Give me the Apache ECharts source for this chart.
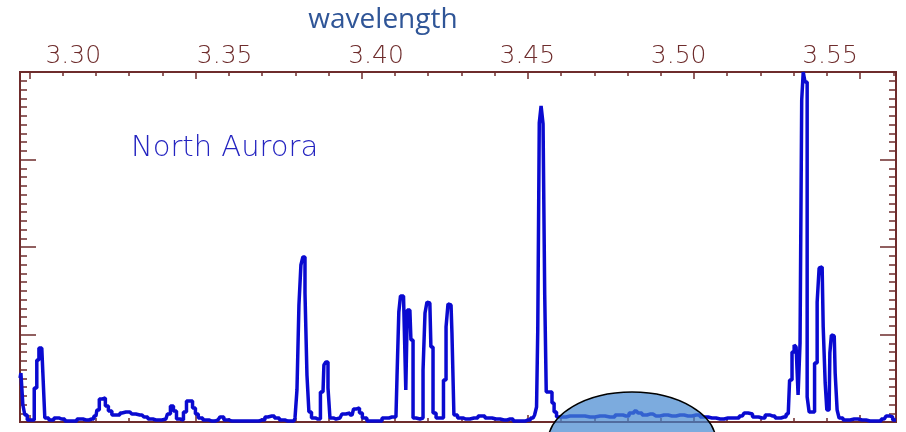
<!DOCTYPE html>
<html>
<head>
<meta charset="utf-8">
<title>North Aurora</title>
<script src="https://cdn.jsdelivr.net/npm/echarts@6/dist/echarts.min.js"></script>
<style>
  html, body { margin: 0; padding: 0; background: #fff; }
  #chart { width: 906px; height: 432px; }
</style>
</head>
<body>
<div id="chart"></div>
<script>
// wavelength (um) and intensity, one pair per step
const wavelength = [
  3.2824, 3.2830, 3.2837, 3.2843, 3.2853, 3.2866, 3.2876, 3.2883, 3.2890, 3.2896,
  3.2903, 3.2909, 3.2929, 3.2943, 3.2962, 3.2982, 3.3002, 3.3022, 3.3042, 3.3061,
  3.3075, 3.3081, 3.3091, 3.3101, 3.3111, 3.3121, 3.3134, 3.3147, 3.3161, 3.3174,
  3.3187, 3.3200, 3.3213, 3.3227, 3.3240, 3.3253, 3.3273, 3.3293, 3.3306, 3.3316,
  3.3326, 3.3336, 3.3346, 3.3359, 3.3369, 3.3379, 3.3389, 3.3399, 3.3408, 3.3418,
  3.3438, 3.3458, 3.3478, 3.3491, 3.3504, 3.3524, 3.3551, 3.3577, 3.3603, 3.3623,
  3.3643, 3.3656, 3.3673, 3.3689, 3.3709, 3.3729, 3.3736, 3.3742, 3.3749, 3.3755,
  3.3762, 3.3769, 3.3775, 3.3782, 3.3792, 3.3808, 3.3825, 3.3831, 3.3838, 3.3845,
  3.3851, 3.3868, 3.3881, 3.3894, 3.3907, 3.3921, 3.3931, 3.3941, 3.3950, 3.3960,
  3.3980, 3.4007, 3.4033, 3.4053, 3.4066, 3.4073, 3.4078, 3.4084, 3.4091, 3.4096,
  3.4101, 3.4106, 3.4112, 3.4119, 3.4126, 3.4139, 3.4152, 3.4159, 3.4165, 3.4172,
  3.4178, 3.4185, 3.4192, 3.4205, 3.4218, 3.4228, 3.4235, 3.4241, 3.4248, 3.4254,
  3.4261, 3.4278, 3.4297, 3.4324, 3.4350, 3.4370, 3.4397, 3.4423, 3.4443, 3.4463,
  3.4483, 3.4502, 3.4519, 3.4529, 3.4532, 3.4537, 3.4542, 3.4549, 3.4555, 3.4560,
  3.4565, 3.4572, 3.4578, 3.4585, 3.4592, 3.4601, 3.4615, 3.4641, 3.4674, 3.4707,
  3.4740, 3.4773, 3.4806, 3.4826, 3.4846, 3.4860, 3.4872, 3.4886, 3.4905, 3.4925,
  3.4952, 3.4978, 3.5005, 3.5031, 3.5058, 3.5084, 3.5110, 3.5137, 3.5163, 3.5190,
  3.5210, 3.5223, 3.5236, 3.5252, 3.5276, 3.5295, 3.5309, 3.5328, 3.5348, 3.5362,
  3.5371, 3.5378, 3.5385, 3.5391, 3.5398, 3.5404, 3.5409, 3.5414, 3.5421, 3.5428,
  3.5434, 3.5444, 3.5454, 3.5461, 3.5467, 3.5474, 3.5481, 3.5487, 3.5492, 3.5497,
  3.5502, 3.5507, 3.5514, 3.5520, 3.5527, 3.5533, 3.5553, 3.5580, 3.5606, 3.5632,
  3.5659, 3.5679, 3.5692, 3.5702, 3.5712, 3.5718
];
const intensity = [
  5.03, 5.6, 1.94, 0.8, 0.23, 0.23, 3.89, 7.09, 8.46, 8.46,
  5.6, 0.46, 0.23, 0.46, 0.34, 0.11, 0.11, 0.34, 0.23, 0.34,
  0.69, 1.37, 2.63, 2.74, 1.83, 1.26, 0.8, 0.8, 1.03, 1.14,
  1.14, 0.91, 0.8, 0.8, 0.57, 0.34, 0.23, 0.23, 0.34, 0.91,
  1.83, 1.26, 0.34, 0.23, 1.14, 2.4, 2.4, 1.6, 0.91, 0.46,
  0.23, 0.11, 0.23, 0.57, 0.23, 0.11, 0.11, 0.11, 0.11, 0.23,
  0.57, 0.69, 0.46, 0.23, 0.11, 0.11, 0.46, 3.66, 13.37, 17.94,
  18.86, 14.74, 5.37, 1.14, 0.46, 0.34, 3.43, 6.51, 6.86, 3.89,
  0.46, 0.34, 0.46, 0.91, 1.03, 0.8, 1.49, 1.6, 1.03, 0.46,
  0.11, 0.11, 0.46, 0.57, 0.57, 5.14, 12.57, 14.4, 14.4, 10.86,
  3.66, 12.8, 12.8, 9.37, 0.46, 0.34, 0.46, 5.94, 12.46, 13.71,
  13.6, 8.57, 1.03, 0.46, 0.46, 4.8, 10.86, 13.49, 13.37, 10.17,
  0.8, 0.46, 0.34, 0.46, 0.69, 0.46, 0.34, 0.23, 0.34, 0.11,
  0.11, 0.23, 0.46, 0.8, 1.71, 10.51, 34.17, 36.11, 34.06, 14.51,
  3.43, 3.43, 3.43, 2.17, 1.14, 0.57, 0.57, 0.69, 0.69, 0.57,
  0.69, 0.57, 0.8, 0.69, 1.03, 1.26, 1.03, 0.8, 0.91, 0.69,
  0.8, 0.69, 0.8, 0.69, 0.8, 0.57, 0.46, 0.34, 0.46, 0.46,
  0.69, 1.03, 0.91, 0.57, 0.46, 0.8, 0.69, 0.46, 0.57, 0.91,
  4.8, 8.0, 8.8, 8.57, 3.09, 9.03, 36.8, 40.0, 38.86, 2.86,
  1.14, 1.14, 6.74, 13.71, 17.6, 17.71, 10.86, 4.46, 1.37, 1.37,
  7.89, 9.94, 9.83, 5.6, 1.37, 0.46, 0.23, 0.34, 0.23, 0.11,
  0.11, 0.34, 0.69, 0.57, 0.23, 0.23
];

// top axis labels (pasted over the plot, they do not sit on the ticks)
const tickLabels = ["3.30", "3.35", "3.40", "3.45", "3.50", "3.55"];

// frame ticks of the original plot, in minor-tick steps
const majorTicks = [0, 5, 10, 15, 20, 25];
const minorTicks = [1, 2, 3, 4, 6, 7, 8, 9, 11, 12, 13, 14, 16, 17, 18, 19, 21, 22, 23, 24, 26];

const frameColor = "#6e2c2c";
const lineColor = "#0a0ad0";

const chartInstance = echarts.init(document.getElementById("chart"));

const series = wavelength.map((w, i) => [w, intensity[i]]);

// same rectangle for every grid, so the extra tick axes line up with the frame
const plotRect = { left: 20, top: 72, width: 876, height: 350 };

const tickAxis = (gridIndex, position, values, len) => ({
  type: "value",
  gridIndex: gridIndex,
  position: position,
  min: -0.286,
  max: 26.08,
  axisLine: { show: false, onZero: false },
  splitLine: { show: false },
  axisLabel: { show: false },
  axisTick: {
    show: true,
    inside: true,
    length: len,
    customValues: values,
    lineStyle: { color: frameColor, width: 1.5 },
  },
});

const sideAxis = (position) => ({
  type: "value",
  gridIndex: 0,
  position: position,
  min: 0,
  max: 40,
  interval: 10,
  axisLine: { show: false, onZero: false },
  splitLine: { show: false },
  axisLabel: { show: false },
  axisTick: {
    show: true,
    inside: true,
    length: 16,
    lineStyle: { color: frameColor, width: 1.5 },
  },
  minorTick: {
    show: true,
    splitNumber: 10,
    length: 7,
    lineStyle: { color: frameColor, width: 1.5 },
  },
  minorSplitLine: { show: false },
});

const hiddenY = (gridIndex) => ({
  type: "value",
  gridIndex: gridIndex,
  show: false,
  min: 0,
  max: 40,
  axisLine: { onZero: false },
});

const option = {
  animation: false,
  backgroundColor: "#ffffff",
  grid: [
    Object.assign({}, plotRect, {
      show: true,
      borderColor: frameColor,
      borderWidth: 2,
      backgroundColor: "transparent",
    }),
    Object.assign({}, plotRect),
    Object.assign({}, plotRect),
  ],
  xAxis: [
    {
      type: "value",
      gridIndex: 0,
      position: "top",
      min: 3.2824,
      max: 3.5718,
      axisLine: { show: false, onZero: false },
      axisTick: { show: false },
      splitLine: { show: false },
      axisLabel: {
        show: true,
        margin: 3,
        customValues: tickLabels.map(Number),
        formatter: (v) => v.toFixed(2),
        color: frameColor,
        fontFamily: "DejaVu Sans",
        fontWeight: 200,
        fontSize: 25,
      },
    },
    tickAxis(0, "bottom", majorTicks, 7),
    tickAxis(1, "top", majorTicks, 7),
    tickAxis(1, "bottom", minorTicks, 4),
    tickAxis(2, "top", minorTicks, 4),
  ],
  yAxis: [sideAxis("left"), sideAxis("right"), hiddenY(1), hiddenY(2)],
  graphic: [
    {
      type: "text",
      style: {
        text: "wavelength",
        x: 383,
        y: 20,
        align: "center",
        verticalAlign: "middle",
        fill: "#2f5597",
        font: "28px 'Open Sans'",
      },
    },
    {
      type: "text",
      style: {
        text: "North Aurora",
        x: 131,
        y: 148,
        align: "left",
        verticalAlign: "middle",
        fill: "#2424c0",
        font: "200 29px 'DejaVu Sans'",
      },
    },
    {
      type: "ellipse",
      z: 100,
      shape: { cx: 632, cy: 442, rx: 84, ry: 50 },
      style: {
        fill: "rgba(69, 136, 208, 0.7)",
        stroke: "#000000",
        lineWidth: 1.5,
      },
    },
  ],
  series: [
    {
      name: "North Aurora",
      type: "line",
      xAxisIndex: 0,
      yAxisIndex: 0,
      step: "middle",
      showSymbol: false,
      clip: true,
      lineStyle: { width: 3.5, color: lineColor },
      data: series,
    },
  ],
};

chartInstance.setOption(option);
</script>
</body>
</html>
